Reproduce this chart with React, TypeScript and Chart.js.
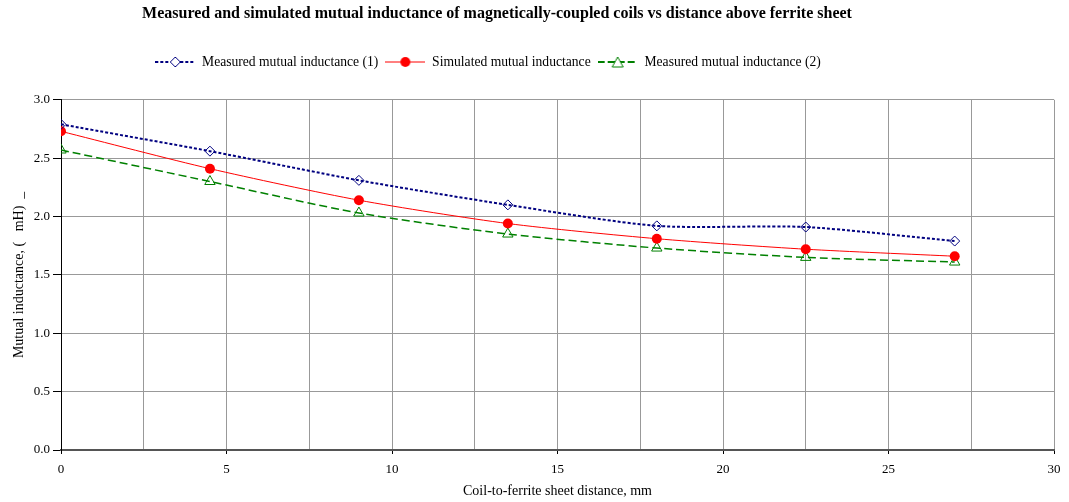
import React, { useEffect, useRef } from "react";
import { Chart, registerables } from "chart.js";

Chart.register(...registerables);

const distances = [0, 4.5, 9, 13.5, 18, 22.5, 27];
const measured1 = [2.79, 2.56, 2.31, 2.1, 1.92, 1.91, 1.79];
const simulated = [2.73, 2.41, 2.14, 1.94, 1.81, 1.72, 1.66];
const measured2 = [2.57, 2.3, 2.03, 1.85, 1.73, 1.65, 1.61];
const seriesNames = [
  "Measured mutual inductance (1)",
  "Simulated mutual inductance",
  "Measured mutual inductance (2)",
];
const titleText =
  "Measured and simulated mutual inductance of magnetically-coupled coils vs distance above ferrite sheet";
const xTitle = "Coil-to-ferrite sheet distance, mm";
const yTitle = "Mutual inductance, (   mH)  _";

const FONT = "'Liberation Serif', 'Times New Roman', serif";

function legendImage(
  color: string,
  dash: number[],
  lineWidth: number,
  marker: "diamond" | "circle" | "triangle"
): HTMLCanvasElement {
  const w = 40;
  const c = document.createElement("canvas");
  c.width = w;
  c.height = 14;
  const ctx = c.getContext("2d")!;
  ctx.strokeStyle = color;
  ctx.lineWidth = lineWidth;
  ctx.setLineDash(dash);
  ctx.beginPath();
  ctx.moveTo(0, 7);
  ctx.lineTo(w, 7);
  ctx.stroke();
  ctx.setLineDash([]);
  ctx.lineWidth = 1;
  const cx = w / 2;
  const cy = 7;
  if (marker === "diamond") {
    ctx.fillStyle = "#fff";
    ctx.beginPath();
    ctx.moveTo(cx, cy - 5);
    ctx.lineTo(cx + 5, cy);
    ctx.lineTo(cx, cy + 5);
    ctx.lineTo(cx - 5, cy);
    ctx.closePath();
    ctx.fill();
    ctx.stroke();
  } else if (marker === "circle") {
    ctx.fillStyle = color;
    ctx.beginPath();
    ctx.arc(cx, cy, 5, 0, Math.PI * 2);
    ctx.fill();
  } else {
    ctx.fillStyle = "#fff";
    ctx.beginPath();
    ctx.moveTo(cx, cy - 5);
    ctx.lineTo(cx + 5.5, cy + 5);
    ctx.lineTo(cx - 5.5, cy + 5);
    ctx.closePath();
    ctx.fill();
    ctx.stroke();
  }
  return c;
}

const shiftPlugin = {
  id: "shiftTop",
  afterLayout(chart: any) {
    const t = chart.titleBlock;
    if (t) {
      t.left -= 30;
      t.right -= 30;
    }
    const l = chart.legend;
    if (l) {
      l.left -= 39;
      l.right -= 39;
    }
  },
};

export default function App() {
  const ref = useRef<HTMLCanvasElement>(null);

  useEffect(() => {
    document.body.style.margin = "0";
    const canvas = ref.current!;
    const navy = "#000080";
    const red = "#FF0000";
    const green = "#008000";
    const imgs = [
      legendImage(navy, [3, 2], 2, "diamond"),
      legendImage(red, [], 1, "circle"),
      legendImage(green, [7, 3], 2, "triangle"),
    ];
    const toXY = (ys: number[]) => ys.map((y, i) => ({ x: distances[i], y }));

    const chart = new Chart(canvas, {
      type: "line",
      plugins: [shiftPlugin],
      data: {
        datasets: [
          {
            label: seriesNames[0],
            data: toXY(measured1),
            borderColor: navy,
            borderWidth: 2,
            borderDash: [3, 2],
            pointStyle: "rectRot",
            pointRadius: 5,
            pointBorderColor: navy,
            pointBackgroundColor: "rgba(255,255,255,0)",
            pointBorderWidth: 1,
            tension: 0.25,
          },
          {
            label: seriesNames[1],
            data: toXY(simulated),
            borderColor: red,
            borderWidth: 1,
            pointStyle: "circle",
            pointRadius: 5,
            pointBorderColor: red,
            pointBackgroundColor: red,
            pointBorderWidth: 0,
            tension: 0.25,
          },
          {
            label: seriesNames[2],
            data: toXY(measured2),
            borderColor: green,
            borderWidth: 1.5,
            borderDash: [8, 4],
            pointStyle: "triangle",
            pointRadius: 6,
            pointBorderColor: green,
            pointBackgroundColor: "rgba(255,255,255,0)",
            pointBorderWidth: 1,
            tension: 0.25,
          },
        ],
      },
      options: {
        animation: false,
        responsive: false,
        maintainAspectRatio: false,
        layout: { padding: { left: 0, right: 15, top: 0, bottom: 0 } },
        plugins: {
          title: {
            display: true,
            text: titleText,
            color: "#000",
            font: { family: FONT, size: 16, weight: "bold" },
            padding: { top: 4, bottom: 25 },
          },
          subtitle: {
            display: true,
            text: " ",
            weight: 500,
            font: { family: FONT, size: 10 },
            padding: { top: 4, bottom: 5 },
          } as any,
          legend: {
            display: true,
            position: "top",
            labels: {
              color: "#000",
              font: { family: FONT, size: 13.6 },
              usePointStyle: true,
              pointStyleWidth: 40,
              padding: 7,
              generateLabels: (ch: any) =>
                ch.data.datasets.map((ds: any, i: number) => ({
                  text: ds.label,
                  pointStyle: imgs[i],
                  fillStyle: "transparent",
                  strokeStyle: "transparent",
                  lineWidth: 0,
                  hidden: false,
                  datasetIndex: i,
                  fontColor: "#000",
                })),
            },
          },
          tooltip: { enabled: false },
        },
        scales: {
          x: {
            type: "linear",
            min: 0,
            max: 30,
            ticks: {
              stepSize: 2.5,
              autoSkip: false,
              maxRotation: 0,
              color: "#000",
              font: { family: FONT, size: 13 },
              padding: 8,
              callback: (v: any) => (Number(v) % 5 === 0 ? String(v) : ""),
            },
            grid: {
              color: "#999",
              lineWidth: 1,
              tickLength: 4,
              tickColor: (c: any) =>
                c.tick && Number(c.tick.value) % 5 === 0 ? "#000" : "rgba(0,0,0,0)",
            },
            border: { color: "#555", width: 2 },
            title: {
              display: true,
              text: xTitle,
              color: "#000",
              font: { family: FONT, size: 14 },
              padding: { top: 0, bottom: 2 },
            },
            afterFit: (s: any) => {
              s.height = 52;
            },
          },
          y: {
            type: "linear",
            min: 0,
            max: 3,
            ticks: {
              stepSize: 0.5,
              color: "#000",
              font: { family: FONT, size: 13 },
              padding: 3,
              callback: (v: any) => Number(v).toFixed(1),
            },
            grid: {
              color: "#999",
              lineWidth: 1,
              tickLength: 8,
              tickColor: "#000",
            },
            border: { color: "#000", width: 1 },
            title: {
              display: true,
              text: yTitle,
              color: "#000",
              font: { family: FONT, size: 14 },
              padding: { top: 11, bottom: 0 },
            },
            afterFit: (s: any) => {
              s.width = 61;
            },
          },
        },
      } as any,
    });
    return () => chart.destroy();
  }, []);

  return (
    <div style={{ width: 1069, height: 502 }}>
      <canvas ref={ref} width={1069} height={502} style={{ display: "block" }} />
    </div>
  );
}
